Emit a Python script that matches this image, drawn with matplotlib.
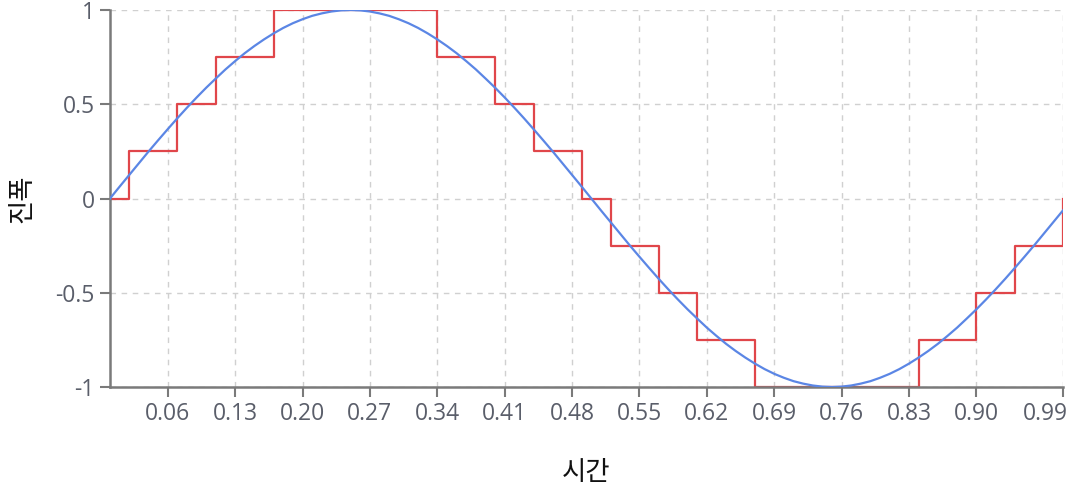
import matplotlib.pyplot as plt
from matplotlib.transforms import ScaledTranslation

# sampled sine (t = 0.00 .. 0.99)
t = [i / 100 for i in range(100)]
amp = [
    0.000, 0.063, 0.125, 0.187, 0.249, 0.309, 0.368, 0.426, 0.482, 0.536,
    0.588, 0.637, 0.685, 0.729, 0.771, 0.809, 0.844, 0.876, 0.905, 0.930,
    0.951, 0.969, 0.982, 0.992, 0.998, 1.000, 0.998, 0.992, 0.982, 0.969,
    0.951, 0.930, 0.905, 0.876, 0.844, 0.809, 0.771, 0.729, 0.685, 0.637,
    0.588, 0.536, 0.482, 0.426, 0.368, 0.309, 0.249, 0.187, 0.125, 0.063,
    0.000, -0.063, -0.125, -0.187, -0.249, -0.309, -0.368, -0.426, -0.482, -0.536,
    -0.588, -0.637, -0.685, -0.729, -0.771, -0.809, -0.844, -0.876, -0.905, -0.930,
    -0.951, -0.969, -0.982, -0.992, -0.998, -1.000, -0.998, -0.992, -0.982, -0.969,
    -0.951, -0.930, -0.905, -0.876, -0.844, -0.809, -0.771, -0.729, -0.685, -0.637,
    -0.588, -0.536, -0.482, -0.426, -0.368, -0.309, -0.249, -0.187, -0.125, -0.063,
]

# quantized signal: level changes (time, level)
step_t = [0.00, 0.02, 0.07, 0.11, 0.17, 0.34, 0.40, 0.44, 0.49, 0.52,
          0.57, 0.61, 0.67, 0.84, 0.90, 0.94, 0.99]
step_level = [0.0, 0.25, 0.5, 0.75, 1.0, 0.75, 0.5, 0.25, 0.0, -0.25,
              -0.5, -0.75, -1.0, -0.75, -0.5, -0.25, 0.0]

xticks = [0.06, 0.13, 0.20, 0.27, 0.34, 0.41, 0.48, 0.55, 0.62, 0.69,
          0.76, 0.83, 0.90, 0.99]
yticks = [-1, -0.5, 0, 0.5, 1]
ytick_labels = ["-1", "-0.5", "0", "0.5", "1"]

plt.rcParams["font.family"] = ["Open Sans", "Noto Sans CJK KR", "DejaVu Sans"]

fig = plt.figure(figsize=(10.74, 4.88), dpi=100)
ax = fig.add_axes([110 / 1074, 1 - 387 / 488, (1063 - 110) / 1074, (387 - 10) / 488])

ax.plot(t, amp, color="#5b86e5", lw=1.6, zorder=3)
ax.step(step_t, step_level, where="post", color="#e0464a", lw=1.6, zorder=2)

ax.set_xlim(0, 0.99)
ax.set_ylim(-1, 1)
ax.set_xticks(xticks)
ax.set_xticklabels([f"{v:.2f}" for v in xticks])
ax.set_yticks(yticks)
ax.set_yticklabels(ytick_labels)

ax.grid(True, color="#d0d0d0", ls=(0, (4, 4)), lw=1)
ax.set_axisbelow(True)
for s in ("top", "right"):
    ax.spines[s].set_visible(False)
for s in ("left", "bottom"):
    ax.spines[s].set_color("#7a7a7a")
    ax.spines[s].set_linewidth(1.8)
ax.tick_params(axis="both", colors="#7a7a7a", width=1.5, length=7,
               labelsize=16.5, labelcolor="#5a5e6a")
ax.tick_params(axis="x", pad=4)
ax.tick_params(axis="y", pad=4)

# last x label is pushed left so it stays inside the figure
last = ax.get_xticklabels()[-1]
last.set_ha("right")
last.set_transform(last.get_transform() + ScaledTranslation(5 / 100, 0, fig.dpi_scale_trans))

ax.set_xlabel("시간", fontsize=19, family=["Noto Sans CJK KR"], color="#111111")
ax.set_ylabel("진폭", fontsize=19, family=["Noto Sans CJK KR"], color="#111111")
ax.xaxis.set_label_coords(0.5, -(472 - 387) / 377, transform=ax.transAxes)
ax.yaxis.set_label_coords(-(110 - 22) / 953, 0.5, transform=ax.transAxes)
ax.xaxis.label.set_va("center")
ax.yaxis.label.set_va("center")

fig.savefig("out.png", dpi=100)
